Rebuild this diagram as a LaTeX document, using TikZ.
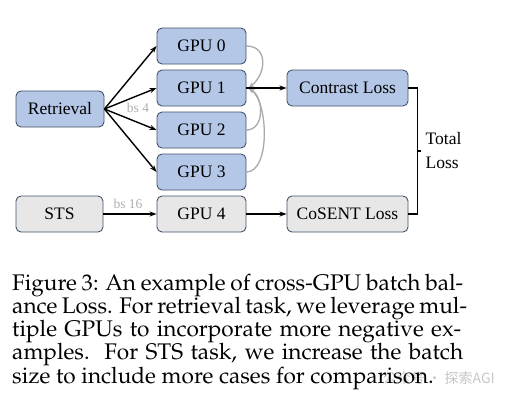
\documentclass[tikz,border=0pt]{standalone}
\usepackage[T1]{fontenc}
\usepackage{fontspec}
\setmainfont{Liberation Serif}
\newfontfamily\cjkfont{Noto Sans CJK SC}
\IfFileExists{t1qpl.fd}{\newcommand\palfont{\fontencoding{T1}\fontfamily{qpl}\selectfont}}{%
  \IfFileExists{t1ppl.fd}{\newcommand\palfont{\fontencoding{T1}\fontfamily{ppl}\selectfont}}{%
    \newcommand\palfont{\rmfamily}}}
\usetikzlibrary{arrows.meta,calc}
\definecolor{bluefill}{RGB}{180,199,231}
\definecolor{grayfill}{RGB}{231,231,231}
\definecolor{boxedge}{RGB}{68,84,106}
\definecolor{curvegray}{RGB}{170,170,170}
\definecolor{labelgray}{RGB}{175,175,175}
\tikzset{
  box/.style={draw=boxedge, line width=0.9pt, rounded corners=5pt, minimum height=36pt, inner sep=0pt, font=\fontsize{17.5}{20}\selectfont},
  bluebox/.style={box, fill=bluefill},
  graybox/.style={box, fill=grayfill},
  gpu/.style={minimum width=89pt},
  arr/.style={line width=1.4pt, -{Stealth[length=7pt,width=5pt]}},
  garr/.style={draw=curvegray, line width=1.3pt, -{Stealth[length=6pt,width=4.5pt]}},
  bslabel/.style={text=labelgray, font=\fontsize{13.5}{15}\selectfont, inner sep=0pt},
  capline/.style={anchor=base west, inner sep=0pt, font=\fontsize{22.6}{24}\palfont}
}
\begin{document}
\begin{tikzpicture}[x=1pt,y=-1pt]
\useasboundingbox[fill=white] (0,0) rectangle (514,400);
% left nodes
\node[bluebox, minimum width=88pt] (ret) at (60,109) {Retrieval};
\node[graybox, minimum width=87pt] (sts) at (59.5,214) {STS};
% GPUs
\node[bluebox, gpu] (g0) at (201.5,46) {GPU 0};
\node[bluebox, gpu] (g1) at (201.5,88) {GPU 1};
\node[bluebox, gpu] (g2) at (201.5,130) {GPU 2};
\node[bluebox, gpu] (g3) at (201.5,172) {GPU 3};
\node[graybox, gpu] (g4) at (201.5,214) {GPU 4};
% losses
\node[bluebox, minimum width=121pt] (cl) at (347.5,88) {Contrast Loss};
\node[graybox, minimum width=121pt] (cs) at (347.5,214) {CoSENT Loss};
% arrows from retrieval
\draw[arr] (ret.east) -- (g0.west);
\draw[arr] (ret.east) -- (g1.west);
\draw[arr] (ret.east) -- (g2.west);
\draw[arr] (ret.east) -- (g3.west);
\draw[arr] (sts.east) -- (g4.west);
\node[bslabel] (bs4) at (138,108) {bs 4};
\node[bslabel] (bs16) at (128,204) {bs 16};
% gray gather curves
\coordinate (hub) at ([xshift=2pt]g1.east);
\draw[garr] (g0.east) .. controls +(22,0) and +(18,-14) .. (hub);
\draw[garr] (g2.east) .. controls +(18,0) and +(16,10) .. (hub);
\draw[garr] (g3.east) .. controls +(24,0) and +(20,14) .. (hub);
% to losses
\draw[arr] (g1.east) -- (cl.west);
\draw[arr] (g4.east) -- (cs.west);
% bracket
\coordinate (bt) at ([xshift=9pt]cl.east);
\coordinate (bb) at ([xshift=9pt]cs.east);
\coordinate (bm) at ($(bt)!0.5!(bb)$);
\draw[line width=1.4pt] (cl.east) -- (bt) -- (bb) -- (cs.east);
\draw[line width=1.4pt] (bm) -- ++(4,0) coordinate (tick);
\node[anchor=west, align=left, inner sep=0pt, font=\fontsize{17.5}{24}\selectfont] (total) at ([xshift=4pt]tick) {Total\\Loss};
% caption
\node[capline] (c1) at (12,290) {\makebox[451pt][s]{Figure 3: An example of cross-GPU batch bal-}};
\node[capline] (c2) at (12,313) {\makebox[451pt][s]{ance Loss. For retrieval task, we leverage mul-}};
\node[capline] (c3) at (12,336) {\makebox[449pt][s]{tiple GPUs to incorporate more negative ex-}};
\node[capline] (c4) at (12,359) {\makebox[451pt][s]{amples.\ \ For STS task, we increase the batch}};
% watermark
\node[anchor=base west, inner sep=0pt, text=labelgray!70, font=\cjkfont\fontsize{14}{15}\selectfont] (wm) at (383,383) {公众号\,·\ 探索AGI};
\node[capline] (c5) at (12,383) {size to include more cases for comparison.};
\end{tikzpicture}
\end{document}
